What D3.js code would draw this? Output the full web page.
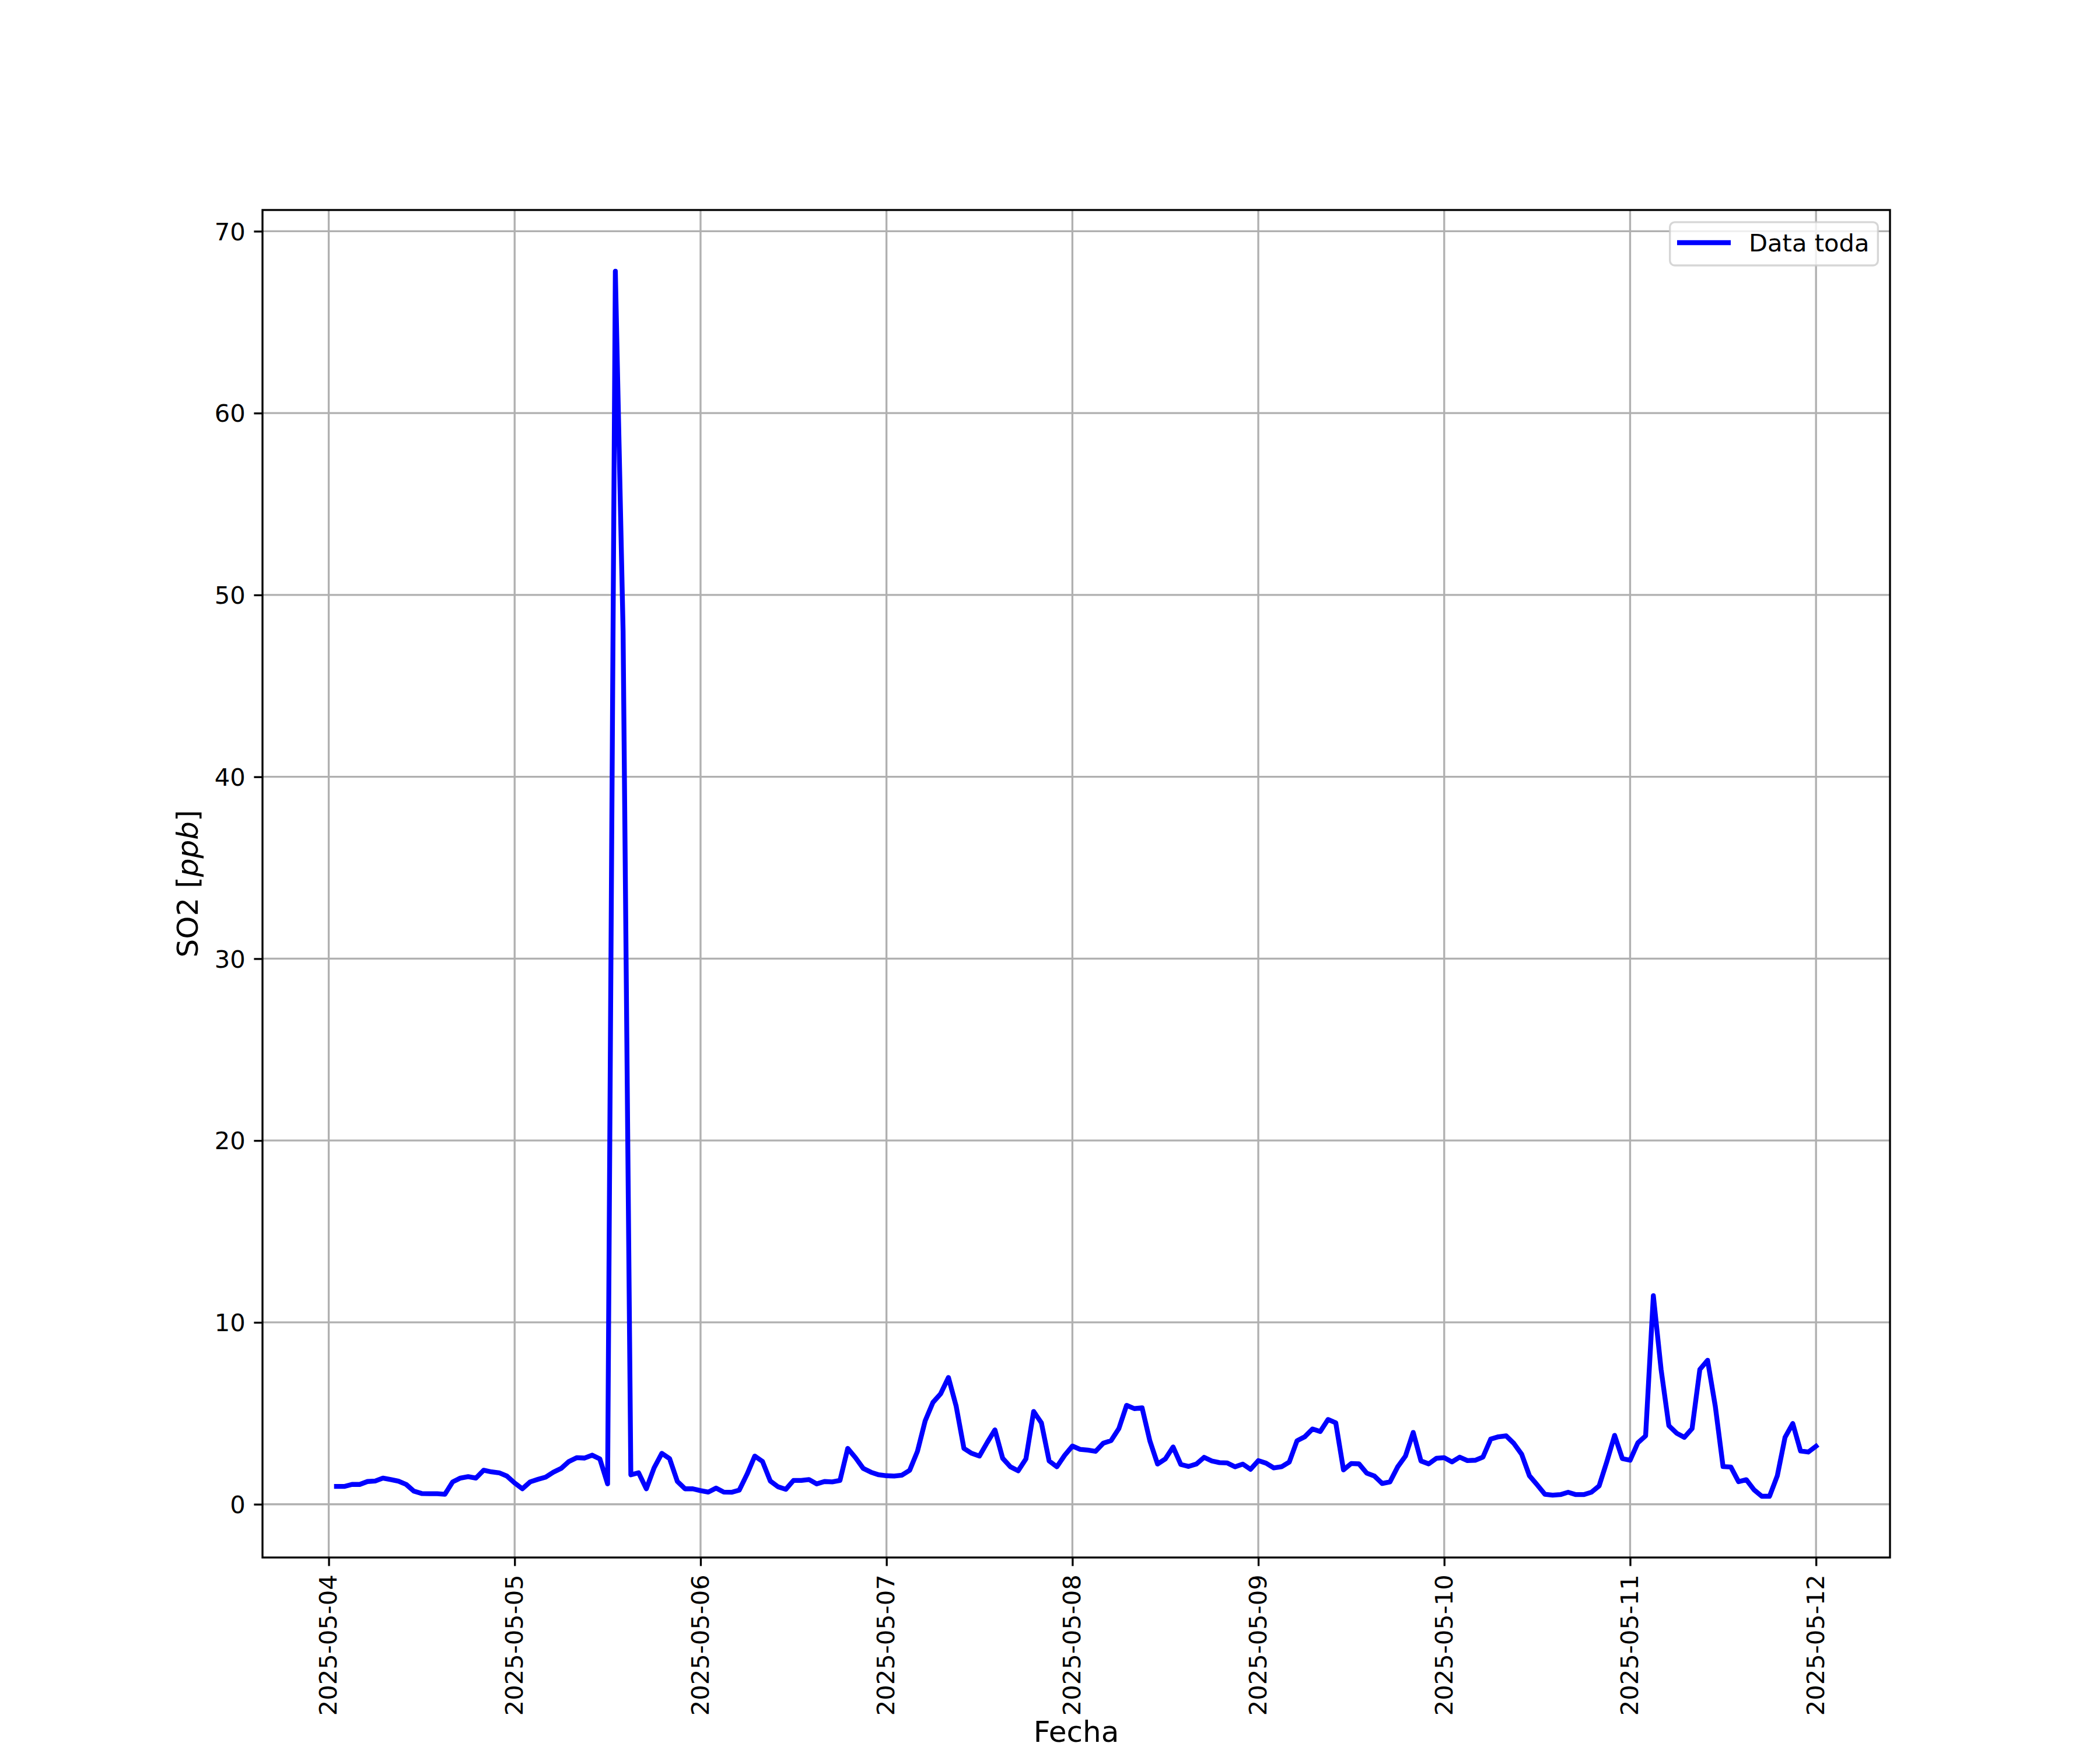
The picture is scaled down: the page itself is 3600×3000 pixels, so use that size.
<!DOCTYPE html>
<html>
<head>
<meta charset="utf-8">
<script src="https://cdn.jsdelivr.net/npm/d3@7"></script>
<style>
  body { margin: 0; background: #ffffff; }
  svg { display: block; }
  text { font-family: "DejaVu Sans", sans-serif; fill: #000; }
</style>
</head>
<body>
<script>
// ---------------- data ----------------
const seriesName = "Data toda";
const startTime = "2025-05-04T01:00:00Z";   // first hourly reading
const stepMs = 3600 * 1000;                  // hourly series
const so2Values = [
  // 2025-05-04 01h .. 05-05 00h
  0.98, 0.98, 1.09, 1.09, 1.25, 1.28, 1.44, 1.36, 1.27, 1.09, 0.72, 0.59,
  0.58, 0.58, 0.55, 1.23, 1.44, 1.52, 1.44, 1.87, 1.78, 1.73, 1.55, 1.17,
  // 05-05 01h .. 05-06 00h
  0.85, 1.23, 1.37, 1.49, 1.76, 1.97, 2.35, 2.56, 2.54, 2.70, 2.49, 1.12,
  67.8, 48.0, 1.62, 1.73, 0.85, 2.00, 2.80, 2.51, 1.26, 0.85, 0.85, 0.75,
  // 05-06 01h .. 05-07 00h
  0.67, 0.89, 0.67, 0.66, 0.78, 1.65, 2.65, 2.35, 1.28, 0.96, 0.82, 1.31,
  1.31, 1.36, 1.12, 1.25, 1.23, 1.31, 3.07, 2.56, 1.97, 1.76, 1.62, 1.57,
  // 05-07 01h .. 05-08 00h
  1.55, 1.60, 1.87, 2.91, 4.59, 5.60, 6.08, 6.97, 5.39, 3.07, 2.80, 2.65,
  3.39, 4.09, 2.53, 2.06, 1.84, 2.49, 5.10, 4.48, 2.38, 2.06, 2.69, 3.20,
  // 05-08 01h .. 05-09 00h
  3.02, 2.98, 2.91, 3.36, 3.50, 4.16, 5.44, 5.26, 5.30, 3.49, 2.21, 2.49,
  3.15, 2.19, 2.08, 2.21, 2.58, 2.38, 2.29, 2.27, 2.06, 2.21, 1.92, 2.40,
  // 05-09 01h .. 05-10 00h
  2.26, 2.00, 2.06, 2.32, 3.49, 3.71, 4.14, 4.00, 4.66, 4.48, 1.89, 2.24,
  2.22, 1.71, 1.55, 1.14, 1.23, 2.06, 2.65, 3.95, 2.38, 2.22, 2.53, 2.56,
  // 05-10 01h .. 05-11 00h
  2.33, 2.59, 2.40, 2.42, 2.59, 3.58, 3.71, 3.76, 3.34, 2.75, 1.57, 1.07,
  0.55, 0.50, 0.53, 0.66, 0.53, 0.53, 0.66, 1.01, 2.35, 3.79, 2.51, 2.42,
  // 05-11 01h .. 05-12 00h
  3.38, 3.76, 11.47, 7.41, 4.32, 3.91, 3.68, 4.16, 7.41, 7.92, 5.38, 2.07,
  2.05, 1.24, 1.35, 0.79, 0.44, 0.44, 1.56, 3.68, 4.44, 2.93, 2.87, 3.19
];
const xTickLabels = ["2025-05-04","2025-05-05","2025-05-06","2025-05-07","2025-05-08",
                     "2025-05-09","2025-05-10","2025-05-11","2025-05-12"];
const yTickValues = [0, 10, 20, 30, 40, 50, 60, 70];
const xLabel = "Fecha";

// ---------------- layout ----------------
const W = 3600, H = 3000;
const box = { left: 450, right: 3240, top: 360, bottom: 2670 };
const fsTick = 41.67, fsLabel = 50;
const tickLen = 14.6, tickPad = 14.6;
const thin = 3.33;

const t0 = Date.parse(startTime);
const records = so2Values.map((v, i) => ({ t: new Date(t0 + i * stepMs), v }));

const tExt = d3.extent(records, d => +d.t);
const tPad = (tExt[1] - tExt[0]) * 0.05;
const x = d3.scaleUtc()
  .domain([new Date(tExt[0] - tPad), new Date(tExt[1] + tPad)])
  .range([box.left, box.right]);

const vExt = d3.extent(so2Values);
const vPad = (vExt[1] - vExt[0]) * 0.05;
const y = d3.scaleLinear()
  .domain([vExt[0] - vPad, vExt[1] + vPad])
  .range([box.bottom, box.top]);

const xTickDates = xTickLabels.map(s => new Date(s + "T00:00:00Z"));

const svg = d3.select("body").append("svg")
  .attr("width", W).attr("height", H)
  .attr("viewBox", `0 0 ${W} ${H}`);

svg.append("rect").attr("width", W).attr("height", H).attr("fill", "#fff");

// grid
const grid = svg.append("g").attr("stroke", "#b0b0b0").attr("stroke-width", thin);
grid.selectAll("line.vx").data(xTickDates).join("line")
  .attr("x1", d => x(d)).attr("x2", d => x(d))
  .attr("y1", box.top).attr("y2", box.bottom);
grid.selectAll("line.hy").data(yTickValues).join("line")
  .attr("x1", box.left).attr("x2", box.right)
  .attr("y1", d => y(d)).attr("y2", d => y(d));

// data line
const line = d3.line().x(d => x(d.t)).y(d => y(d.v));
svg.append("path").datum(records)
  .attr("d", line)
  .attr("fill", "none")
  .attr("stroke", "#0000ff")
  .attr("stroke-width", 8.33)
  .attr("stroke-linejoin", "round")
  .attr("stroke-linecap", "square");

// axes
const gx = svg.append("g").attr("transform", `translate(0,${box.bottom})`)
  .call(d3.axisBottom(x).tickValues(xTickDates)
    .tickFormat((d, i) => xTickLabels[i])
    .tickSize(tickLen).tickPadding(tickPad));
gx.select(".domain").remove();
gx.selectAll(".tick line").attr("stroke", "#000").attr("stroke-width", thin);
gx.selectAll(".tick text")
  .attr("font-family", "DejaVu Sans")
  .attr("font-size", fsTick)
  .attr("fill", "#000")
  .attr("transform", "rotate(-90)")
  .attr("text-anchor", "end")
  .attr("x", -(tickLen + tickPad))
  .attr("y", 0)
  .attr("dy", "0.32em");

const gy = svg.append("g").attr("transform", `translate(${box.left},0)`)
  .call(d3.axisLeft(y).tickValues(yTickValues)
    .tickFormat(d3.format("d"))
    .tickSize(tickLen).tickPadding(tickPad));
gy.select(".domain").remove();
gy.selectAll(".tick line").attr("stroke", "#000").attr("stroke-width", thin);
gy.selectAll(".tick text")
  .attr("font-family", "DejaVu Sans")
  .attr("font-size", fsTick)
  .attr("fill", "#000")
  .attr("dy", "0.35em");

// frame
svg.append("rect")
  .attr("x", box.left).attr("y", box.top)
  .attr("width", box.right - box.left).attr("height", box.bottom - box.top)
  .attr("fill", "none").attr("stroke", "#000").attr("stroke-width", thin);

// axis labels
svg.append("text")
  .attr("x", (box.left + box.right) / 2).attr("y", 2986)
  .attr("text-anchor", "middle")
  .attr("font-size", fsLabel)
  .text(xLabel);

const yl = svg.append("text")
  .attr("transform", `translate(339,${(box.top + box.bottom) / 2}) rotate(-90)`)
  .attr("text-anchor", "middle")
  .attr("font-size", fsLabel);
yl.append("tspan").text("SO2 [");
yl.append("tspan").attr("font-style", "italic").text("ppb");
yl.append("tspan").text("]");

// legend
const lg = svg.append("g");
lg.append("rect")
  .attr("x", 2862.7).attr("y", 380.8)
  .attr("width", 356.6).attr("height", 74.2)
  .attr("rx", 8.3).attr("ry", 8.3)
  .attr("fill", "#ffffff").attr("fill-opacity", 0.8)
  .attr("stroke", "#cccccc").attr("stroke-opacity", 0.8)
  .attr("stroke-width", thin);
lg.append("line")
  .attr("x1", 2875).attr("x2", 2967)
  .attr("y1", 416).attr("y2", 416)
  .attr("stroke", "#0000ff").attr("stroke-width", 8.33)
  .attr("stroke-linecap", "butt");
lg.append("text")
  .attr("x", 2998).attr("y", 431)
  .attr("font-size", fsTick)
  .text(seriesName);
</script>
</body>
</html>
